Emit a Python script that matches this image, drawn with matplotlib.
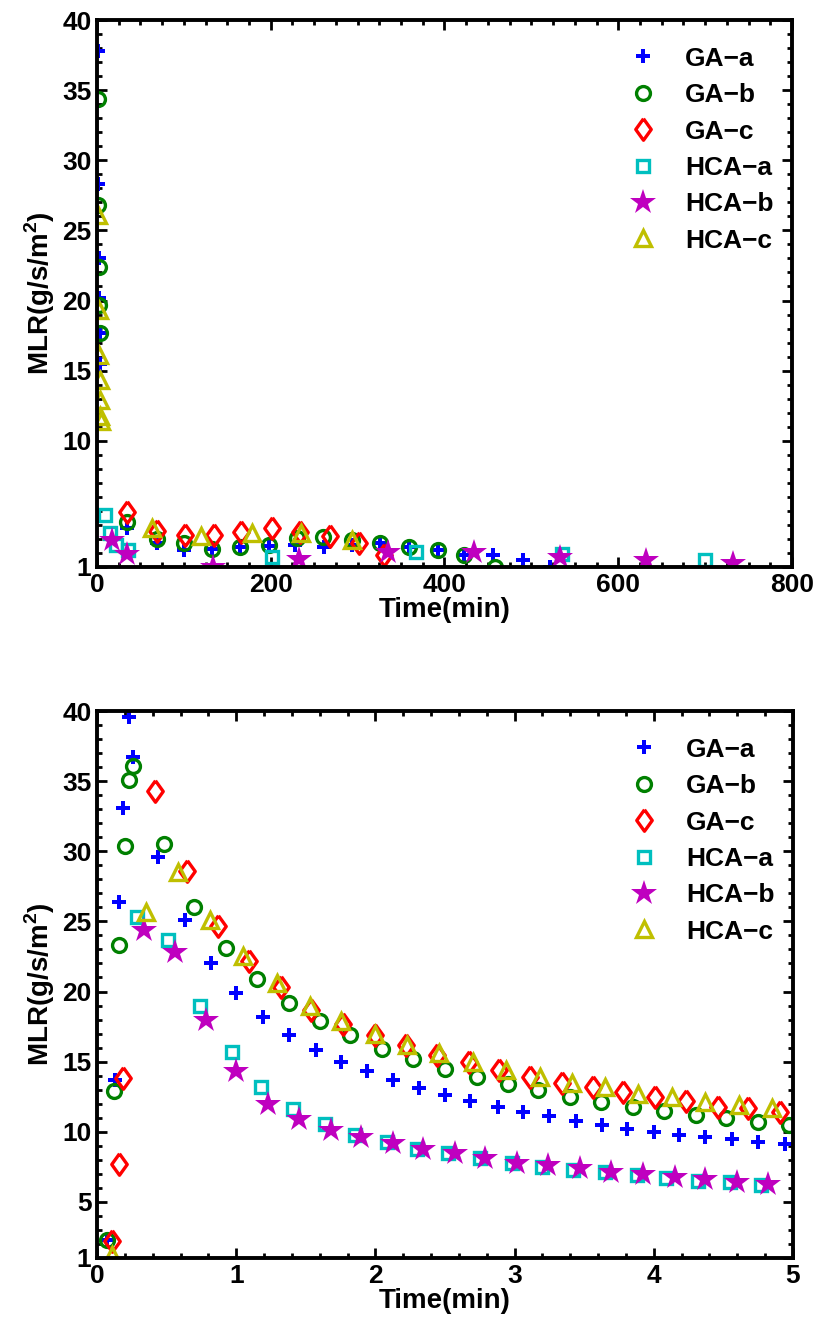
import numpy as np
import matplotlib
matplotlib.use("Agg")
import matplotlib.pyplot as plt
from matplotlib.ticker import MultipleLocator, AutoMinorLocator

plt.rcParams["font.family"] = ["Liberation Sans", "DejaVu Sans"]
plt.rcParams["font.weight"] = "bold"
plt.rcParams["mathtext.fontset"] = "custom"
plt.rcParams["mathtext.rm"] = "Liberation Sans:bold"
plt.rcParams["mathtext.bf"] = "Liberation Sans:bold"

labels = ["GA\u2212a", "GA\u2212b", "GA\u2212c", "HCA\u2212a", "HCA\u2212b", "HCA\u2212c"]

# ---- top panel: whole test (0-800 min) ----
ga_a_t_full = [1, 1.5, 2, 2.5, 3, 3.5, 34, 69, 100, 132, 165, 198, 228, 261, 294, 326, 359, 392, 423, 456, 490, 521]
ga_a_y_full = [37.8, 28.3, 23.0, 20.2, 17.7, 15.5, 3.8, 2.7, 2.2, 2.3, 2.45, 2.5, 2.6, 2.45, 2.6, 2.7, 2.45, 2.2, 1.85, 1.85, 1.5, 1.0]
ga_b_t_full = [1, 1.5, 2, 2.5, 3, 34, 69, 100, 132, 165, 198, 230, 260, 293, 326, 359, 392, 423, 458]
ga_b_y_full = [34.4, 26.8, 22.4, 19.7, 17.7, 4.2, 3.0, 2.7, 2.3, 2.45, 2.6, 3.05, 3.15, 2.9, 2.7, 2.45, 2.2, 1.85, 1.0]
ga_c_t_full = [34, 69, 101, 135, 166, 201, 234, 268, 302, 330]
ga_c_y_full = [4.9, 3.6, 3.3, 3.3, 3.5, 3.75, 3.5, 3.2, 2.7, 1.85]
hca_a_t_full = [9, 15, 22, 36, 201, 367, 535, 700]
hca_a_y_full = [4.7, 3.4, 2.6, 2.2, 1.7, 2.1, 1.9, 1.5]
hca_b_t_full = [17, 34, 134, 232, 335, 434, 533, 632, 732]
hca_b_y_full = [2.9, 1.9, 1.0, 1.6, 2.1, 2.1, 1.7, 1.5, 1.3]
hca_c_t_full = [1.5, 2, 2.5, 3, 3.5, 4, 4.5, 63, 120, 178, 235, 293]
hca_c_y_full = [26.1, 19.3, 16.1, 14.3, 12.9, 11.8, 11.4, 3.8, 3.2, 3.4, 3.4, 2.9]

# ---- bottom panel: first 5 min ----
ga_a_t = [0.07, 0.13, 0.16, 0.19, 0.23, 0.26, 0.44, 0.63, 0.82, 1.0, 1.19, 1.38, 1.57, 1.75, 1.94,
          2.13, 2.31, 2.5, 2.68, 2.88, 3.06, 3.25, 3.44, 3.63, 3.81, 4.0, 4.18, 4.37, 4.56, 4.75, 4.94]
ga_a_y = [2.3, 13.7, 26.4, 33.1, 39.6, 36.7, 29.6, 25.1, 22.0, 19.9, 18.2, 16.9, 15.8, 15.0, 14.3,
          13.7, 13.1, 12.6, 12.2, 11.8, 11.4, 11.1, 10.8, 10.5, 10.2, 10.0, 9.8, 9.6, 9.45, 9.25, 9.1]
ga_b_t = [0.07, 0.12, 0.16, 0.20, 0.23, 0.26, 0.48, 0.70, 0.93, 1.15, 1.38, 1.60, 1.82, 2.05, 2.27,
          2.50, 2.73, 2.95, 3.17, 3.40, 3.62, 3.85, 4.07, 4.30, 4.52, 4.75, 4.97]
ga_b_y = [2.3, 12.9, 23.3, 30.4, 35.1, 36.1, 30.5, 26.0, 23.1, 20.9, 19.2, 17.9, 16.9, 15.9, 15.2,
          14.5, 13.9, 13.4, 13.0, 12.5, 12.1, 11.8, 11.5, 11.2, 11.0, 10.7, 10.5]
ga_c_t = [0.11, 0.16, 0.19, 0.42, 0.65, 0.87, 1.09, 1.32, 1.54, 1.77, 2.0, 2.22, 2.44, 2.67, 2.89,
          3.11, 3.34, 3.56, 3.78, 4.01, 4.23, 4.46, 4.68, 4.91]
ga_c_y = [2.2, 7.7, 13.8, 34.3, 28.6, 24.7, 22.2, 20.3, 18.7, 17.7, 16.9, 16.2, 15.5, 15.0, 14.4,
          13.9, 13.5, 13.2, 12.8, 12.5, 12.2, 11.8, 11.7, 11.4]
hca_a_t = [0.29, 0.51, 0.74, 0.97, 1.18, 1.41, 1.64, 1.85, 2.08, 2.30, 2.52, 2.75, 2.98, 3.20, 3.42,
           3.65, 3.88, 4.09, 4.32, 4.55, 4.77]
hca_a_y = [25.3, 23.7, 19.0, 15.7, 13.2, 11.6, 10.55, 9.8, 9.3, 8.8, 8.45, 8.1, 7.8, 7.5, 7.3,
           7.1, 6.9, 6.7, 6.5, 6.4, 6.2]
hca_b_t = [0.34, 0.56, 0.78, 1.0, 1.23, 1.45, 1.68, 1.90, 2.13, 2.34, 2.57, 2.79, 3.02, 3.24, 3.47,
           3.69, 3.92, 4.15, 4.37, 4.60, 4.82]
hca_b_y = [24.4, 22.8, 18.0, 14.3, 12.0, 10.9, 10.1, 9.65, 9.2, 8.8, 8.45, 8.1, 7.8, 7.6, 7.4,
           7.15, 7.0, 6.8, 6.6, 6.45, 6.3]
hca_c_t = [0.11, 0.35, 0.58, 0.81, 1.05, 1.29, 1.53, 1.75, 2.0, 2.23, 2.46, 2.70, 2.94, 3.18, 3.41,
           3.65, 3.89, 4.13, 4.37, 4.61, 4.85]
hca_c_y = [1.2, 25.7, 28.5, 25.1, 22.5, 20.6, 19.0, 17.9, 17.0, 16.2, 15.6, 15.0, 14.4, 13.9, 13.5,
           13.2, 12.7, 12.5, 12.1, 11.9, 11.7]

# MATLAB-like diamond (a bit wider than matplotlib's thin 'd')
diamond = [(0, 1), (0.72, 0), (0, -1), (-0.72, 0), (0, 1)]

styles = [
    dict(marker="P", color=(0, 0, 1), ms=9.5, filled=True),
    dict(marker="o", color=(0, 0.5, 0), ms=10, filled=False),
    dict(marker=diamond, color=(1, 0, 0), ms=15.5, filled=False),
    dict(marker="s", color=(0, 0.75, 0.75), ms=8.5, filled=False),
    dict(marker="*", color=(0.75, 0, 0.75), ms=19, filled=True),
    dict(marker="^", color=(0.75, 0.75, 0), ms=12, filled=False),
]


def draw(ax, series):
    for (t, y), lab, st in zip(series, labels, styles):
        if st["filled"]:
            ax.plot(t, y, linestyle="none", marker=st["marker"], color=st["color"],
                    markersize=st["ms"], markeredgewidth=0, label=lab)
        else:
            ax.plot(t, y, linestyle="none", marker=st["marker"], markerfacecolor="none",
                    markeredgecolor=st["color"], markersize=st["ms"], markeredgewidth=2.4, label=lab)
    ax.set_xlabel("Time(min)", fontsize=20, fontweight="bold", labelpad=0)
    ax.set_ylabel(r"MLR(g/s/m$^\mathbf{2}$)", fontsize=20, fontweight="bold", labelpad=4)
    for s in ax.spines.values():
        s.set_linewidth(2.8)
    ax.tick_params(which="both", direction="in", top=True, right=True, labelsize=19, width=2, pad=4)
    ax.tick_params(which="major", length=7)
    ax.tick_params(which="minor", length=3.5)
    ax.yaxis.set_minor_locator(MultipleLocator(1))
    ax.legend(loc="upper right", bbox_to_anchor=(1.0, 0.985), frameon=False, fontsize=19,
              handlelength=1.6, handletextpad=0.8, labelspacing=0.47, borderaxespad=0.3)


fig = plt.figure(figsize=(8.22, 13.35), dpi=100)

ax1 = fig.add_axes([0.118, 0.5753, 0.8455, 0.4097])
draw(ax1, [(ga_a_t_full, ga_a_y_full), (ga_b_t_full, ga_b_y_full), (ga_c_t_full, ga_c_y_full),
           (hca_a_t_full, hca_a_y_full), (hca_b_t_full, hca_b_y_full), (hca_c_t_full, hca_c_y_full)])
ax1.set_xlim(0, 800)
ax1.set_ylim(1, 40)
ax1.set_xticks([0, 200, 400, 600, 800])
ax1.set_yticks([1, 10, 15, 20, 25, 30, 35, 40])
ax1.xaxis.set_minor_locator(AutoMinorLocator(8))

ax2 = fig.add_axes([0.118, 0.0577, 0.8467, 0.4097])
draw(ax2, [(ga_a_t, ga_a_y), (ga_b_t, ga_b_y), (ga_c_t, ga_c_y),
           (hca_a_t, hca_a_y), (hca_b_t, hca_b_y), (hca_c_t, hca_c_y)])
ax2.set_xlim(0, 5)
ax2.set_ylim(1, 40)
ax2.set_xticks([0, 1, 2, 3, 4, 5])
ax2.set_yticks([1, 5, 10, 15, 20, 25, 30, 35, 40])
ax2.xaxis.set_minor_locator(AutoMinorLocator(5))

for ax in (ax1, ax2):
    for lab in ax.get_xticklabels() + ax.get_yticklabels():
        lab.set_fontweight("bold")

fig.savefig("out.png", dpi=100)
